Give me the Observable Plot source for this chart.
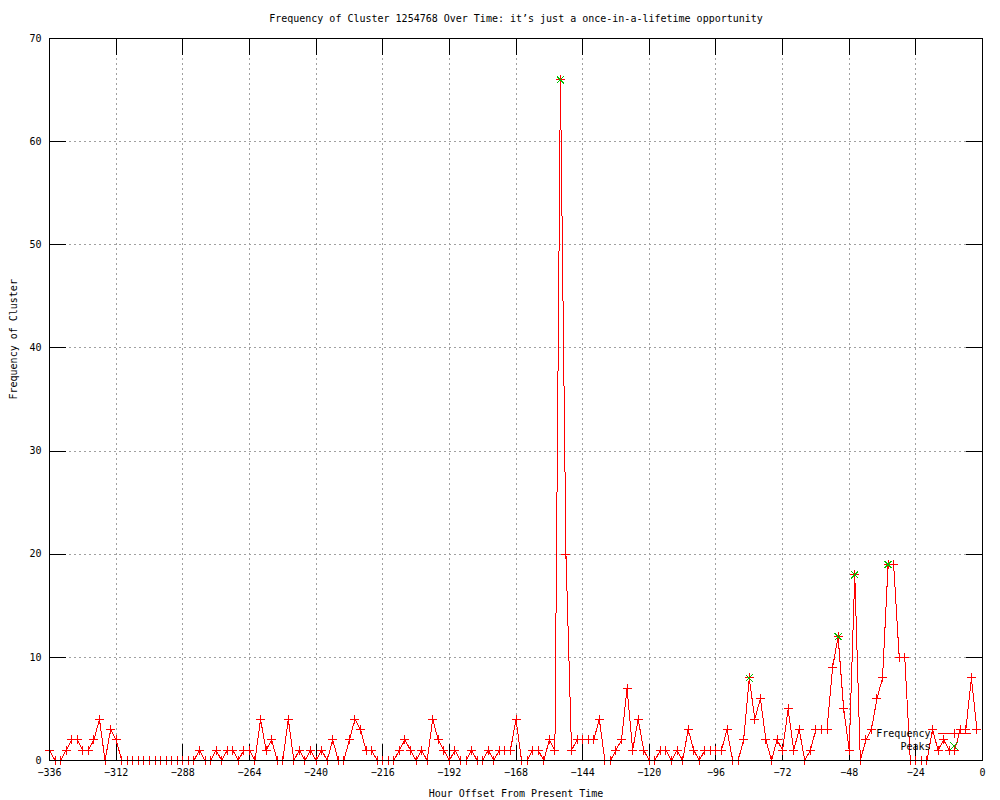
<!DOCTYPE html>
<html>
<head>
<meta charset="utf-8">
<script src="https://cdn.jsdelivr.net/npm/d3@7"></script>
<script src="https://cdn.jsdelivr.net/npm/@observablehq/plot@0.6"></script>
<style>
  html, body { margin: 0; padding: 0; background: #ffffff; }
  #chart svg { display: block; shape-rendering: crispEdges; }
</style>
</head>
<body>
<div id="chart"></div>
<script>
// ---- Chart text ----
const title = "Frequency of Cluster 1254768 Over Time: it\u2019s just a once-in-a-lifetime opportunity";
const xLabel = "Hour Offset From Present Time";
const yLabel = "Frequency of Cluster";
const legendLabels = ["Frequency", "Peaks"];

// ---- Tick values ----
const xTicks = [-336, -312, -288, -264, -240, -216, -192, -168, -144, -120, -96, -72, -48, -24, 0];
const yTicks = [0, 10, 20, 30, 40, 50, 60, 70];

// ---- Series: one sample every 2 hours, starting at -336 ----
const hours = d3.range(-336, 0, 2);
const frequency = [
  1, 0, 0, 1, 2, 2, 1, 1, 2, 4,
  0, 3, 2, 0, 0, 0, 0, 0, 0, 0,
  0, 0, 0, 0, 0, 0, 0, 1, 0, 0,
  1, 0, 1, 1, 0, 1, 1, 0, 4, 1,
  2, 0, 0, 4, 0, 1, 0, 1, 0, 1,
  0, 2, 0, 0, 2, 4, 3, 1, 1, 0,
  0, 0, 0, 1, 2, 1, 0, 1, 0, 4,
  2, 1, 0, 1, 0, 0, 1, 0, 0, 1,
  0, 1, 1, 1, 4, 0, 0, 1, 1, 0,
  2, 1, 66, 20, 1, 2, 2, 2, 2, 4,
  0, 0, 1, 2, 7, 1, 4, 1, 0, 0,
  1, 1, 0, 1, 0, 3, 1, 0, 1, 1,
  1, 1, 3, 0, 0, 2, 8, 4, 6, 2,
  0, 2, 1, 5, 1, 3, 0, 1, 3, 3,
  3, 9, 12, 5, 1, 18, 0, 2, 3, 6,
  8, 19, 19, 10, 10, 0, 0, 0, 0, 3,
  1, 2, 1, 1, 3, 3, 8, 3
];
const peakHours = [-152, -84, -52, -46, -34];

const series = hours.map((h, i) => ({hour: h, value: frequency[i]}));
const peaks = peakHours.map(h => ({hour: h, value: frequency[hours.indexOf(h)]}));

// ---- Symbols (gnuplot-like point types) ----
const plusSymbol = {
  draw(ctx, size) {
    const r = Math.sqrt(size / Math.PI);
    ctx.moveTo(-r, 0); ctx.lineTo(r, 0);
    ctx.moveTo(0, -r); ctx.lineTo(0, r);
  }
};
const timesSymbol = {
  draw(ctx, size) {
    const r = Math.sqrt(size / Math.PI) * 0.78;
    ctx.moveTo(-r, -r); ctx.lineTo(r, r);
    ctx.moveTo(-r, r); ctx.lineTo(r, -r);
  }
};
const legendLineSymbol = {
  draw(ctx, size) {
    const r = Math.sqrt(size / Math.PI);
    ctx.moveTo(-16.5, 0); ctx.lineTo(16.5, 0);
    ctx.moveTo(0, -r); ctx.lineTo(0, r);
  }
};
const tickShape = { draw(ctx, l) { ctx.moveTo(0, 0); ctx.lineTo(0, -l); } };

const RED = "#ff0000";
const GREEN = "#00c000";
const GRID = "#a0a0a0";
const TICK_LEN = 16;

const chart = Plot.plot({
  width: 1000,
  height: 800,
  marginLeft: 49,
  marginRight: 18,
  marginTop: 38,
  marginBottom: 40,
  style: {fontFamily: "'DejaVu Sans Mono', 'Liberation Mono', monospace", fontSize: "10px", color: "#000", background: "#fff"},
  x: {domain: [-336, 0], ticks: xTicks},
  y: {domain: [0, 70], ticks: yTicks},
  marks: [
    Plot.gridX(xTicks, {stroke: GRID, strokeOpacity: 1, strokeDasharray: "2,3"}),
    Plot.gridY(yTicks, {stroke: GRID, strokeOpacity: 1, strokeDasharray: "2,3"}),
    // inward tick marks on all four sides
    Plot.vector(xTicks, {x: d => d, frameAnchor: "bottom", anchor: "start", rotate: 0, length: TICK_LEN, shape: tickShape, stroke: "#000", strokeWidth: 1}),
    Plot.vector(xTicks, {x: d => d, frameAnchor: "top", anchor: "end", rotate: 0, length: TICK_LEN, shape: tickShape, stroke: "#000", strokeWidth: 1}),
    Plot.vector(yTicks, {y: d => d, frameAnchor: "left", anchor: "start", rotate: 90, length: TICK_LEN, shape: tickShape, stroke: "#000", strokeWidth: 1}),
    Plot.vector(yTicks, {y: d => d, frameAnchor: "right", anchor: "start", rotate: -90, length: TICK_LEN, shape: tickShape, stroke: "#000", strokeWidth: 1}),
    // tick labels
    Plot.axisX(xTicks, {anchor: "bottom", tickSize: 0, tickPadding: 8, label: null, fill: "#000"}),
    Plot.axisY(yTicks, {anchor: "left", tickSize: 0, tickPadding: 8, label: null, fill: "#000"}),
    // data
    Plot.line(series, {x: "hour", y: "value", stroke: RED, strokeWidth: 1}),
    Plot.dot(series, {x: "hour", y: "value", symbol: plusSymbol, r: 4.5, stroke: RED, fill: "none", strokeWidth: 1}),
    Plot.dot(peaks, {x: "hour", y: "value", symbol: timesSymbol, r: 4.5, stroke: GREEN, fill: "none", strokeWidth: 1}),
    Plot.frame({stroke: "#000", strokeWidth: 1}),
    // legend (inside plot, bottom right)
    Plot.text([legendLabels[0]], {text: d => d, frameAnchor: "bottom-right", dx: -52, dy: -27, textAnchor: "end", lineAnchor: "middle", fill: "#000"}),
    Plot.dot([legendLabels[0]], {frameAnchor: "bottom-right", dx: -28.5, dy: -27, symbol: legendLineSymbol, r: 4.5, stroke: RED, fill: "none", strokeWidth: 1}),
    Plot.text([legendLabels[1]], {text: d => d, frameAnchor: "bottom-right", dx: -52, dy: -14, textAnchor: "end", lineAnchor: "middle", fill: "#000"}),
    Plot.dot([legendLabels[1]], {frameAnchor: "bottom-right", dx: -28.5, dy: -14.5, symbol: timesSymbol, r: 4.5, stroke: GREEN, fill: "none", strokeWidth: 1}),
    // titles
    Plot.text([title], {text: d => d, frameAnchor: "top", dy: -20, lineAnchor: "middle", fill: "#000"}),
    Plot.text([xLabel], {text: d => d, frameAnchor: "bottom", dy: 33, lineAnchor: "middle", fill: "#000"}),
    Plot.text([yLabel], {text: d => d, frameAnchor: "left", dx: -36, rotate: -90, lineAnchor: "middle", fill: "#000"})
  ]
});

document.getElementById("chart").appendChild(chart);
</script>
</body>
</html>
